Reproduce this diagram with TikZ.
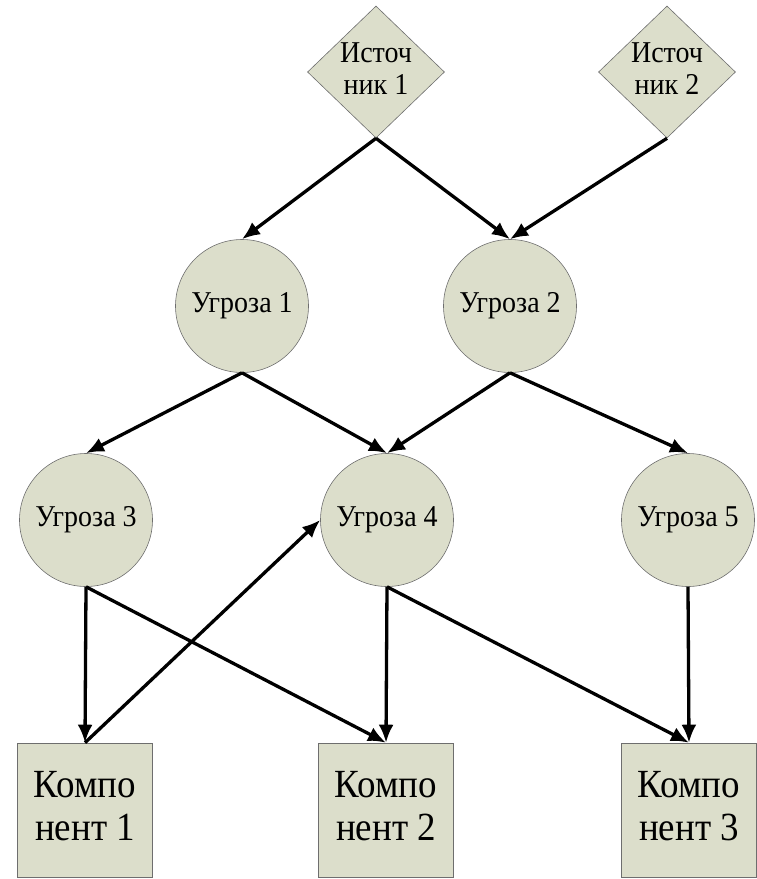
\documentclass[tikz,border=0pt]{standalone}
\usepackage{fontspec}
\setmainfont{Liberation Serif}
\usetikzlibrary{shapes.geometric,arrows.meta}
\definecolor{boxfill}{HTML}{DCDECB}
\definecolor{boxline}{HTML}{6E6E6E}
\newcommand\talltext[1]{\scalebox{1}[1.08]{\begin{tabular}{@{}c@{}}#1\end{tabular}}}
\begin{document}
\begin{tikzpicture}[x=1pt,y=-1pt,
  src/.style={diamond,draw=boxline,fill=boxfill,line width=0.6pt,inner sep=0pt,minimum width=137pt,minimum height=132pt},
  threat/.style={circle,draw=boxline,fill=boxfill,line width=0.6pt,inner sep=0pt,minimum size=133pt,font=\fontsize{28}{30}\selectfont},
  comp/.style={rectangle,draw=boxline,fill=boxfill,line width=0.6pt,inner sep=0pt,minimum width=135pt,minimum height=134pt,font=\fontsize{37}{40}\selectfont},
  lbl/.style={inner sep=0pt,font=\fontsize{28}{30}\selectfont},
  arr/.style={line width=3.3pt,-{Latex[length=18pt,width=15pt]}}]
\useasboundingbox (0,0) rectangle (757,879);
\node[src] (s1) at (376,72) {};
\node[lbl] (s1t) at (376,72) {\talltext{Источ\\ник 1}};
\node[src] (s2) at (667,72) {};
\node[lbl] (s2t) at (667,72) {\talltext{Источ\\ник 2}};
\node[threat] (t1) at (242,306) {\talltext{Угроза 1}};
\node[threat] (t2) at (510,306) {\talltext{Угроза 2}};
\node[threat] (t3) at (86,520) {\talltext{Угроза 3}};
\node[threat] (t4) at (387,520) {\talltext{Угроза 4}};
\node[threat] (t5) at (688,520) {\talltext{Угроза 5}};
\node[comp] (c1) at (85,810) {\talltext{Компо\\нент 1}};
\node[comp] (c2) at (386,810) {\talltext{Компо\\нент 2}};
\node[comp] (c3) at (689,810) {\talltext{Компо\\нент 3}};
\draw[arr] (s1.south) -- (t1.north);
\draw[arr] (s1.south) -- (t2.north);
\draw[arr] (s2.south) -- (t2.north);
\draw[arr] (t1.south) -- (t3.north);
\draw[arr] (t1.south) -- (t4.north);
\draw[arr] (t2.south) -- (t4.north);
\draw[arr] (t2.south) -- (t5.north);
\draw[arr] (t3.south) -- (c1.north);
\draw[arr] (t3.south) -- (c2.north);
\draw[arr] (t4.south) -- (c2.north);
\draw[arr] (t4.south) -- (c3.north);
\draw[arr] (t5.south) -- (c3.north);
\draw[arr] (c1.north) -- (t4.west);
\end{tikzpicture}
\end{document}
